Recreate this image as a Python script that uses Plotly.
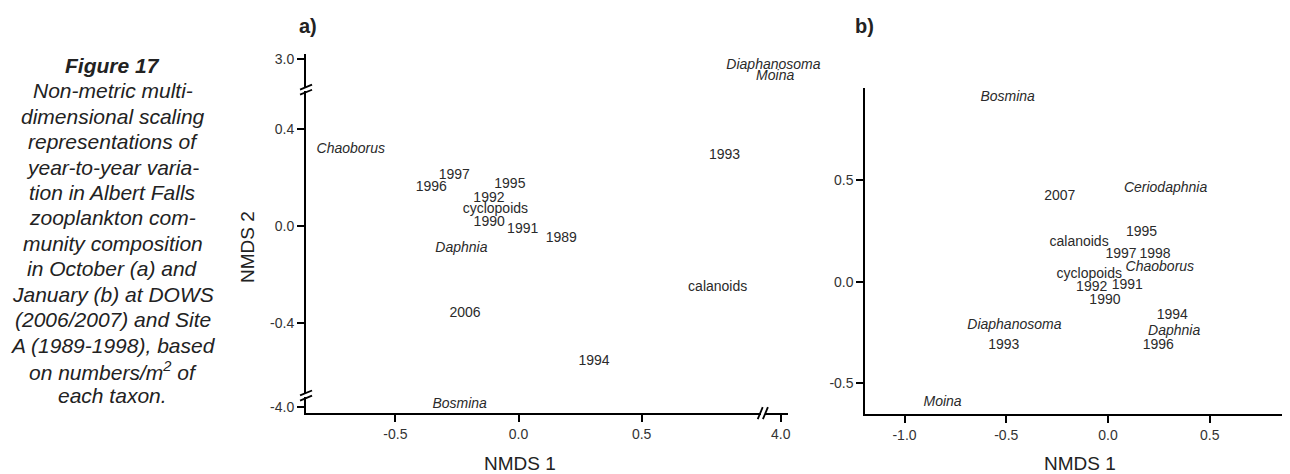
import plotly.graph_objects as go

# The page body adds an 8 px margin, so the figure is 8 px smaller and all
# layout positions (given in reference-page pixels) are shifted by 8 px.
OFF = 8
W, H = 1290 - OFF, 474 - OFF

# ---------------- data ----------------
# Panel a (October)
a_labels = ["Chaoborus", "1993", "1997", "1996", "1995", "1992", "cyclopoids", "1990",
            "1991", "1989", "Daphnia", "calanoids", "2006", "1994", "Bosmina",
            "Diaphanosoma", "Moina"]
a_x = [-0.681, 0.837, -0.261, -0.354, -0.035, -0.120, -0.094, -0.119,
       0.017, 0.174, -0.232, 0.809, -0.217, 0.307, -0.239,
       3.970, 3.977]
a_y = [0.317, 0.291, 0.209, 0.160, 0.170, 0.113, 0.067, 0.015,
       -0.014, -0.052, -0.091, -0.253, -0.362, -0.558, -3.990,
       2.972, 2.927]
a_taxon = [True, False, False, False, False, False, False, False,
           False, False, True, False, False, False, True,
           True, True]

# Panel b (January)
b_labels = ["Bosmina", "2007", "Ceriodaphnia", "1995", "calanoids", "1997", "1998",
            "Chaoborus", "cyclopoids", "1991", "1992", "1990", "1994", "Diaphanosoma",
            "Daphnia", "1993", "1996", "Moina"]
b_x = [-0.493, -0.237, 0.283, 0.165, -0.142, 0.064, 0.231,
       0.255, -0.092, 0.095, -0.080, -0.015, 0.316, -0.460,
       0.325, -0.512, 0.247, -0.813]
b_y = [0.909, 0.422, 0.458, 0.242, 0.195, 0.135, 0.135,
       0.070, 0.037, -0.018, -0.029, -0.094, -0.164, -0.217,
       -0.246, -0.312, -0.312, -0.596]
b_taxon = [True, False, True, False, False, False, False,
           True, False, False, False, False, False, True,
           True, False, False, True]

# tick values / labels
a_xticks_main = [-0.5, 0.0, 0.5]
a_xticks_main_text = ["-0.5", "0.0", "0.5"]
a_xticks_far = [4.0]
a_xticks_far_text = ["4.0"]
a_yticks_mid = [-0.4, 0.0, 0.4]
a_yticks_mid_text = ["-0.4", "0.0", "0.4"]
a_yticks_top = [3.0]
a_yticks_top_text = ["3.0"]
a_yticks_bot = [-4.0]
a_yticks_bot_text = ["-4.0"]
b_xticks = [-1.0, -0.5, 0.0, 0.5]
b_xticks_text = ["-1.0", "-0.5", "0.0", "0.5"]
b_yticks = [-0.5, 0.0, 0.5]
b_yticks_text = ["-0.5", "0.0", "0.5"]

caption_lines = ["<b>Figure 17</b>", "Non-metric multi-", "dimensional scaling",
                 "representations of", "year-to-year varia-", "tion in Albert Falls",
                 "zooplankton com-", "munity composition", "in October (a) and",
                 "January (b) at DOWS", "(2006/2007) and Site", "A (1989-1998), based",
                 "on numbers/m<sup>2</sup> of", "each taxon."]

# ---------------- helpers ----------------
def fx(p):
    return (p - OFF) / W

def fy(p):
    return 1 - (p - OFF) / H

FONT = "Liberation Sans, Arial, sans-serif"

fig = go.Figure()

def add_labels(xs, ys, labels, taxa, xa, ya):
    for italic in (False, True):
        px_ = [x for x, t in zip(xs, taxa) if t == italic]
        py_ = [y for y, t in zip(ys, taxa) if t == italic]
        tx_ = [l for l, t in zip(labels, taxa) if t == italic]
        if not px_:
            continue
        fig.add_trace(go.Scatter(
            x=px_, y=py_, text=tx_, mode="text", textposition="middle center",
            textfont=dict(family=FONT, size=14, color="#2a2a2a",
                          style="italic" if italic else "normal"),
            xaxis=xa, yaxis=ya, cliponaxis=False, showlegend=False, hoverinfo="text"))

# panel a: split into broken-axis segments
segs = {}
for x, y, l, t in zip(a_x, a_y, a_labels, a_taxon):
    xa = "x2" if x > 3 else "x"
    ya = "y2" if y > 2 else ("y3" if y < -3 else "y")
    segs.setdefault((xa, ya), []).append((x, y, l, t))
for (xa, ya), pts in segs.items():
    add_labels([p[0] for p in pts], [p[1] for p in pts], [p[2] for p in pts],
               [p[3] for p in pts], xa, ya)

# panel b
add_labels(b_x, b_y, b_labels, b_taxon, "x3", "y4")

axis_common = dict(showline=True, linecolor="black", linewidth=2, ticks="outside",
                   ticklen=7, tickwidth=2, tickcolor="black", showgrid=False,
                   zeroline=False, tickfont=dict(family=FONT, size=14, color="#333333"),
                   fixedrange=True)

# panel a geometry (reference pixels)
A_Y = 306.5          # y-axis line x
A_XL = 414.5         # x-axis line y
X0_PX, X_UNIT = 519.3, 246.6
Y0_PX, Y_UNIT = 225.3, 245.0
# panel b geometry
B_Y = 866.7
B_XL = 415.5
BX0, BXU = 1109.7, 203.8
BY0, BYU = 281.7, 205.0

fig.update_layout(
    width=W, height=H, margin=dict(l=0, r=0, t=0, b=0),
    plot_bgcolor="white", paper_bgcolor="white", showlegend=False,
    xaxis=dict(axis_common, domain=[fx(A_Y), fx(762)], anchor="y3",
               range=[(A_Y - X0_PX) / X_UNIT, (762 - X0_PX) / X_UNIT],
               tickvals=a_xticks_main, ticktext=a_xticks_main_text),
    xaxis2=dict(axis_common, domain=[fx(766), fx(789.5)], anchor="y3",
                range=[4.0 - (782 - 766) / X_UNIT, 4.0 + (789.5 - 782) / X_UNIT],
                tickvals=a_xticks_far, ticktext=a_xticks_far_text),
    yaxis=dict(axis_common, domain=[fy(395), fy(89)], anchor="x",
               range=[(Y0_PX - 395) / Y_UNIT, (Y0_PX - 89) / Y_UNIT],
               tickvals=a_yticks_mid, ticktext=a_yticks_mid_text),
    yaxis2=dict(axis_common, domain=[fy(86), fy(51.5)], anchor="x",
                range=[3.0 - (86 - 56.5) / Y_UNIT, 3.0 + (56.5 - 51.5) / Y_UNIT],
                tickvals=a_yticks_top, ticktext=a_yticks_top_text),
    yaxis3=dict(axis_common, domain=[fy(A_XL), fy(398.5)], anchor="x",
                range=[-4.0 - (A_XL - 408.3) / Y_UNIT, -4.0 + (408.3 - 398.5) / Y_UNIT],
                tickvals=a_yticks_bot, ticktext=a_yticks_bot_text),
    xaxis3=dict(axis_common, domain=[fx(B_Y), 1.0], anchor="y4",
                range=[(B_Y - BX0) / BXU, (1290 - BX0) / BXU],
                tickvals=b_xticks, ticktext=b_xticks_text),
    yaxis4=dict(axis_common, domain=[fy(B_XL), fy(86)], anchor="x3",
                range=[(BY0 - B_XL) / BYU, (BY0 - 86) / BYU],
                tickvals=b_yticks, ticktext=b_yticks_text),
)

ann = []
# caption
for i, line in enumerate(caption_lines):
    ann.append(dict(text=line, x=fx(113), y=fy(63 + i * 25.7), xref="paper", yref="paper",
                    xanchor="center", yanchor="middle", showarrow=False,
                    font=dict(family=FONT, size=21, color="#222", style="italic")))
# panel letters
ann.append(dict(text="<b>a)</b>", x=fx(308), y=fy(23), xref="paper", yref="paper",
                xanchor="center", yanchor="middle", showarrow=False,
                font=dict(family=FONT, size=20, color="#222")))
ann.append(dict(text="<b>b)</b>", x=fx(866), y=fy(23), xref="paper", yref="paper",
                xanchor="center", yanchor="middle", showarrow=False,
                font=dict(family=FONT, size=20, color="#222")))
# axis titles
for tx, x, y, ang in [("NMDS 2", 248, 247, -90), ("NMDS 1", 521, 465, 0),
                      ("NMDS 1", 1082, 465, 0)]:
    ann.append(dict(text=tx, x=fx(x), y=fy(y), xref="paper", yref="paper",
                    xanchor="center", yanchor="middle", showarrow=False, textangle=ang,
                    font=dict(family=FONT, size=19, color="#222")))
fig.update_layout(annotations=ann)

# axis-break marks
shapes = []
def ybreak(cx, cy):
    for d in (-2.6, 2.6):
        shapes.append(dict(type="line", xref="paper", yref="paper",
                           x0=fx(cx - 6), y0=fy(cy + d + 2.5), x1=fx(cx + 6), y1=fy(cy + d - 2.5),
                           line=dict(color="black", width=1.8)))
def xbreak(cx, cy):
    for d in (-2.6, 2.6):
        shapes.append(dict(type="line", xref="paper", yref="paper",
                           x0=fx(cx + d - 2.5), y0=fy(cy + 6), x1=fx(cx + d + 2.5), y1=fy(cy - 6),
                           line=dict(color="black", width=1.8)))
ybreak(A_Y, 87.5)
ybreak(A_Y, 396.7)
xbreak(764, A_XL)
fig.update_layout(shapes=shapes)

fig.write_html("out.html")
